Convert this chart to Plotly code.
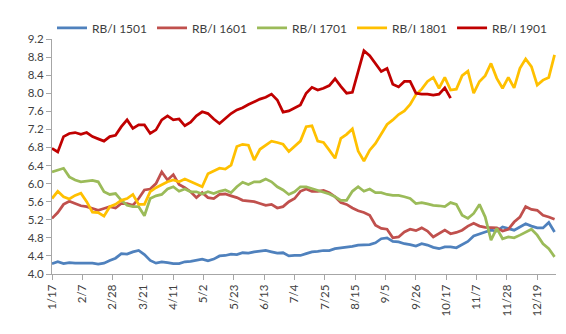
import pandas as pd
import plotly.graph_objects as go

# x categories: sampled trading dates (every 4 days)
dates = pd.date_range("2018-01-17", periods=88, freq="4D")

tick_labels = ["1/17", "2/7", "2/28", "3/21", "4/11", "5/2", "5/23", "6/13", "7/4",
               "7/25", "8/15", "9/5", "9/26", "10/17", "11/7", "11/28", "12/19"]

rb_1501 = [4.23, 4.27, 4.23, 4.25, 4.24, 4.24, 4.25, 4.24, 4.22, 4.24, 4.30, 4.35, 4.45, 4.44, 4.49, 4.52, 4.43, 4.30, 4.24, 4.27, 4.25, 4.23,
           4.23, 4.27, 4.28, 4.30, 4.33, 4.29, 4.33, 4.40, 4.41, 4.44, 4.43, 4.47, 4.46, 4.49, 4.50, 4.52, 4.49, 4.46, 4.47, 4.40, 4.41,
           4.41, 4.45, 4.49, 4.50, 4.52, 4.52, 4.56, 4.58, 4.59, 4.61, 4.64, 4.65, 4.65, 4.69, 4.78, 4.80, 4.72, 4.71, 4.67, 4.65, 4.62,
           4.67, 4.64, 4.59, 4.56, 4.60, 4.60, 4.58, 4.65, 4.72, 4.84, 4.89, 4.93, 4.97, 4.95, 5.04, 5.01, 4.97, 5.04, 5.11, 5.06, 5.02, 5.02, 5.14, 4.93]

rb_1601 = [5.23, 5.36, 5.54, 5.61, 5.56, 5.51, 5.49, 5.45, 5.41, 5.45, 5.49, 5.46, 5.56, 5.56, 5.52, 5.67, 5.86, 5.88, 6.00, 6.26, 6.08, 6.20,
           5.98, 5.91, 5.82, 5.69, 5.80, 5.69, 5.67, 5.76, 5.77, 5.73, 5.69, 5.63, 5.61, 5.60, 5.56, 5.52, 5.54, 5.46, 5.49, 5.60, 5.67,
           5.83, 5.88, 5.83, 5.83, 5.85, 5.80, 5.71, 5.58, 5.54, 5.46, 5.40, 5.36, 5.30, 5.08, 5.01, 4.99, 4.80, 4.82, 4.93, 4.99, 4.96,
           5.02, 4.95, 4.82, 4.89, 4.97, 4.89, 4.92, 4.97, 5.06, 5.12, 5.06, 5.03, 5.02, 5.02, 4.95, 4.99, 5.15, 5.26, 5.49, 5.43, 5.41, 5.30, 5.26, 5.21]

rb_1701 = [6.26, 6.30, 6.34, 6.15, 6.08, 6.04, 6.06, 6.07, 6.04, 5.82, 5.76, 5.78, 5.63, 5.52, 5.49, 5.49, 5.29, 5.67, 5.73, 5.76, 5.88, 5.93,
           5.83, 5.88, 5.82, 5.82, 5.77, 5.82, 5.78, 5.83, 5.86, 5.80, 5.93, 6.03, 5.98, 6.04, 6.04, 6.10, 6.04, 5.93, 5.86, 5.76, 5.82,
           5.93, 5.93, 5.89, 5.85, 5.82, 5.77, 5.71, 5.63, 5.63, 5.83, 5.93, 5.83, 5.88, 5.80, 5.80, 5.76, 5.74, 5.74, 5.71, 5.67, 5.56,
           5.58, 5.55, 5.52, 5.51, 5.49, 5.58, 5.54, 5.30, 5.23, 5.34, 5.54, 5.26, 4.75, 5.01, 4.78, 4.82, 4.80, 4.86, 4.93, 4.99, 4.86, 4.67, 4.56, 4.38]

rb_1801 = [5.67, 5.83, 5.71, 5.66, 5.74, 5.79, 5.60, 5.37, 5.36, 5.28, 5.49, 5.54, 5.63, 5.67, 5.76, 5.54, 5.54, 5.82, 5.91, 5.98, 6.04, 6.08,
           6.04, 6.10, 6.04, 5.98, 5.93, 6.22, 6.28, 6.34, 6.32, 6.41, 6.82, 6.87, 6.85, 6.52, 6.76, 6.85, 6.94, 6.91, 6.87, 6.71, 6.82,
           6.94, 7.26, 7.28, 6.94, 6.91, 6.74, 6.56, 7.00, 7.09, 7.21, 6.72, 6.50, 6.74, 6.89, 7.09, 7.31, 7.41, 7.53, 7.61, 7.75, 7.97,
           8.09, 8.26, 8.35, 8.11, 8.35, 8.07, 8.09, 8.39, 8.49, 8.00, 8.26, 8.39, 8.66, 8.33, 8.11, 8.35, 8.12, 8.55, 8.76, 8.59, 8.18, 8.29, 8.35, 8.85]

rb_1901 = [6.78, 6.70, 7.04, 7.11, 7.13, 7.09, 7.13, 7.04, 6.99, 6.94, 7.04, 7.07, 7.26, 7.41, 7.22, 7.30, 7.30, 7.11, 7.19, 7.41, 7.50, 7.41,
           7.43, 7.28, 7.36, 7.50, 7.59, 7.55, 7.43, 7.33, 7.44, 7.55, 7.63, 7.68, 7.75, 7.81, 7.87, 7.91, 7.98, 7.85, 7.58, 7.61, 7.68,
           7.74, 8.00, 8.13, 8.07, 8.11, 8.17, 8.32, 8.15, 8.00, 8.02, 8.48, 8.94, 8.83, 8.66, 8.48, 8.55, 8.20, 8.14, 8.26, 8.26, 8.00,
           7.98, 7.98, 7.96, 7.98, 8.12, 7.89] + [None] * 18

series_names = ["RB/I 1501", "RB/I 1601", "RB/I 1701", "RB/I 1801", "RB/I 1901"]
series_values = [rb_1501, rb_1601, rb_1701, rb_1801, rb_1901]
colors = ["#4F81BD", "#C0504D", "#9BBB59", "#FFC000", "#C00000"]

fig = go.Figure()
for name, vals, col in zip(series_names, series_values, colors):
    fig.add_trace(go.Scatter(x=dates, y=vals, mode="lines", name=name,
                             line=dict(color=col, width=2.75), connectgaps=False))

tick_dates = []
for lab in tick_labels:
    m, d = lab.split("/")
    tick_dates.append(f"2018-{int(m):02d}-{int(d):02d}")

axis_font = dict(family="Lato, 'Open Sans', sans-serif", size=11.5, color="#404040")

fig.update_layout(
    width=566, height=334,
    margin=dict(l=52, r=10, t=39, b=60),
    paper_bgcolor="white", plot_bgcolor="white",
    font=axis_font,
    showlegend=True,
    legend=dict(orientation="h", x=0.0, xanchor="left", y=1.047, yanchor="middle",
                font=dict(family="Lato, 'Open Sans', sans-serif", size=12, color="#404040"),
                itemwidth=30,
                bgcolor="rgba(0,0,0,0)", tracegroupgap=0),
    xaxis=dict(type="date", range=["2018-01-17", "2019-01-01"],
               tickmode="array", tickvals=tick_dates, ticktext=tick_labels,
               tickangle=-90, showgrid=False, zeroline=False,
               showline=True, linecolor="#A6A6A6", linewidth=1,
               ticks="outside", ticklen=5, tickcolor="#A6A6A6", tickfont=axis_font),
    yaxis=dict(range=[4.0, 9.2], dtick=0.4, tick0=4.0, tickformat=".1f",
               showgrid=False, zeroline=False,
               showline=True, linecolor="#A6A6A6", linewidth=1,
               ticks="outside", ticklen=5, tickcolor="#A6A6A6", tickfont=axis_font),
)

fig.write_html("out.html")
